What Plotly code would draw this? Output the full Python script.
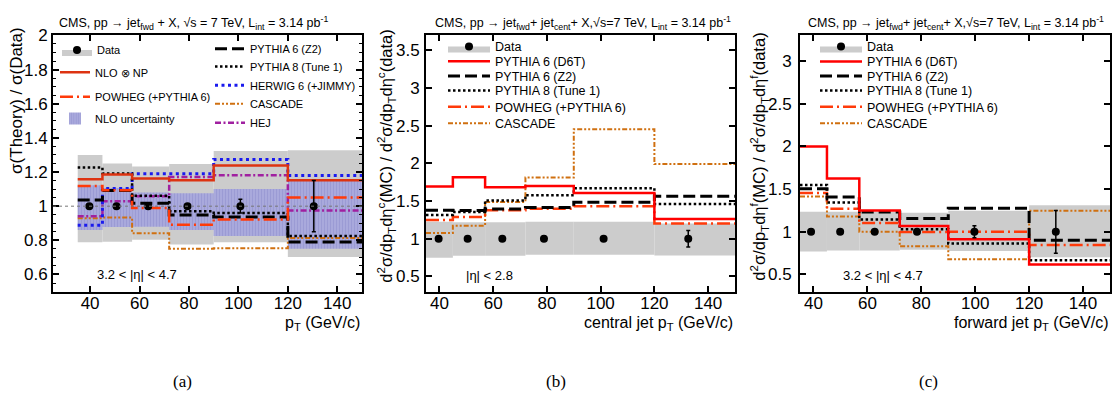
import plotly.graph_objects as go

W, H = 1117, 404
FONT = "Liberation Sans, Arial, sans-serif"

# ---------------- data ----------------
edges = [35, 45, 57, 72, 90, 120, 150]

# panel (a): sigma(Theory)/sigma(Data), 3.2<|eta|<4.7
a_pts_x = [39.7, 50.7, 63.5, 79.4, 100.8, 130.5]
a_pts_y = [1, 1, 1, 1, 1, 1]
a_pts_err = [0.01, 0.01, 0.01, 0.01, 0.04, 0.15]
a_data_hi = [1.30, 1.25, 1.232, 1.247, 1.323, 1.327]
a_data_lo = [0.789, 0.791, 0.803, 0.775, 0.789, 0.703]
a_nlo_hi = [1.122, 1.107, 1.08, 1.075, 1.100, 1.147]
a_nlo_lo = [0.861, 0.878, 0.88, 0.860, 0.826, 0.750]
a_nlo = [1.158, 1.185, 1.162, 1.152, 1.238, 1.152]
a_powheg = [1.118, 1.093, 0.989, 0.891, 0.922, 1.051]
a_z2 = [1.036, 1.092, 1.017, 0.948, 0.937, 0.790]
a_p8 = [1.226, 1.192, 1.061, 0.970, 0.960, 0.826]
a_herwig = [0.889, 1.103, 1.190, 1.190, 1.274, 1.179]
a_cascade = [0.930, 0.933, 0.842, 0.750, 0.754, 0.813]
a_hej = [0.941, 1.029, 1.058, 1.171, 1.181, 0.975]

# panel (b): central jet, |eta|<2.8
b_pts_x = [39.7, 50.5, 63.4, 78.9, 101.1, 132.6]
b_pts_y = [1, 1, 1, 1, 1, 1]
b_pts_err = [0.01, 0.01, 0.01, 0.01, 0.02, 0.11]
b_data_hi = [1.225, 1.22, 1.22, 1.225, 1.225, 1.205]
b_data_lo = [0.75, 0.775, 0.775, 0.79, 0.79, 0.78]
b_d6t = [1.695, 1.816, 1.685, 1.700, 1.609, 1.264]
b_z2 = [1.380, 1.375, 1.395, 1.415, 1.484, 1.566]
b_p8 = [1.317, 1.355, 1.510, 1.580, 1.670, 1.462]
b_powheg = [1.250, 1.290, 1.380, 1.400, 1.432, 1.203]
b_cascade = [1.078, 1.175, 1.488, 1.813, 2.456, 1.994]

# panel (c): forward jet, 3.2<|eta|<4.7
c_pts_x = [39.1, 49.9, 62.7, 78.4, 99.7, 129.9]
c_pts_y = [1, 1, 1, 1, 1, 1]
c_pts_err = [0.01, 0.01, 0.01, 0.01, 0.07, 0.25]
c_data_hi = [1.236, 1.236, 1.236, 1.224, 1.247, 1.311]
c_data_lo = [0.770, 0.780, 0.780, 0.790, 0.775, 0.703]
c_d6t = [2.000, 1.624, 1.250, 1.068, 0.912, 0.616]
c_z2 = [1.505, 1.407, 1.232, 1.157, 1.277, 0.900]
c_p8 = [1.548, 1.343, 1.145, 1.030, 0.863, 0.666]
c_powheg = [1.453, 1.270, 1.103, 0.998, 1.000, 0.844]
c_cascade = [1.414, 1.179, 1.000, 0.830, 0.677, 1.247]

x_ticks = [40, 60, 80, 100, 120, 140]

# ---------------- styles ----------------
GRAY = "#cccccc"
ST = {
    "nlo": dict(color="#dd3311", width=2.5),
    "powheg": dict(color="#ff3a0a", width=2.5, dash="13px,4px,2px,4px"),
    "z2": dict(color="black", width=3, dash="12px,5px"),
    "p8": dict(color="black", width=2.5, dash="2.5px,2.5px"),
    "herwig": dict(color="#1a1aee", width=3, dash="3px,3.5px"),
    "cascade": dict(color="#d07010", width=2, dash="5px,2px,2px,2px,2px,2px"),
    "hej": dict(color="#a020a0", width=2.5, dash="6px,2.5px,2px,2.5px"),
    "d6t": dict(color="#ff0000", width=2.5),
}

LEG_DY = -7  # legend item sits a bit below the legend box middle


def centers(e):
    return [(e[i] + e[i + 1]) / 2 for i in range(len(e) - 1)]


def widths(e):
    return [e[i + 1] - e[i] for i in range(len(e) - 1)]


fig = go.Figure()
legends = {}
leg_count = [0]


def new_legend(px_left, px_cy, itemwidth, fsize):
    leg_count[0] += 1
    key = "legend" if leg_count[0] == 1 else "legend%d" % leg_count[0]
    legends[key] = dict(
        x=px_left / W, y=1 - (px_cy + LEG_DY) / H, xanchor="left", yanchor="middle",
        bgcolor="rgba(0,0,0,0)", borderwidth=0, itemwidth=itemwidth,
        font=dict(family=FONT, size=fsize, color="black"),
    )
    return key


def band(lo, hi, color, xa, ya, name=None, leg=None, pattern=None, line=None):
    mk = dict(color=color, line=line or dict(width=0))
    if pattern:
        mk["pattern"] = pattern
    fig.add_trace(go.Bar(
        x=centers(edges), y=[h - l for l, h in zip(lo, hi)], base=lo,
        width=widths(edges), marker=mk, xaxis=xa, yaxis=ya,
        name=name or "", showlegend=leg is not None, legend=leg or "legend",
        hoverinfo="skip",
    ))


def step(vals, style, xa, ya, name, leg=None):
    fig.add_trace(go.Scatter(
        x=edges, y=vals + [vals[-1]], mode="lines",
        line=dict(shape="hv", **style), xaxis=xa, yaxis=ya, name=name,
        showlegend=leg is not None, legend=leg or "legend",
    ))


def points(px, py, err, xa, ya, leg=None):
    fig.add_trace(go.Scatter(
        x=px, y=py, mode="markers", name="Data",
        marker=dict(color="black", size=8),
        error_y=dict(type="data", array=err, color="black", thickness=1.5, width=2),
        fill="toself", fillcolor=GRAY,
        xaxis=xa, yaxis=ya, showlegend=leg is not None, legend=leg or "legend",
    ))


# ---------------- panel (a) ----------------
band(a_data_lo, a_data_hi, GRAY, "x", "y")
band(a_nlo_lo, a_nlo_hi, "#a9a9dc", "x", "y", name="NLO uncertainty",
     leg=new_legend(55, 119, 30, 11),
     pattern=dict(shape="|", fgcolor="#8e8ecc", size=3, solidity=0.35))
step(a_cascade, ST["cascade"], "x", "y", "CASCADE", new_legend(210, 104, 30, 11))
step(a_hej, ST["hej"], "x", "y", "HEJ", new_legend(210, 123.3, 30, 11))
step(a_herwig, ST["herwig"], "x", "y", "HERWIG 6 (+JIMMY)", new_legend(210, 85, 30, 11))
step(a_p8, ST["p8"], "x", "y", "PYTHIA 8 (Tune 1)", new_legend(210, 65.7, 30, 11))
step(a_z2, ST["z2"], "x", "y", "PYTHIA 6 (Z2)", new_legend(210, 47.7, 30, 11))
step(a_powheg, ST["powheg"], "x", "y", "POWHEG (+PYTHIA 6)", new_legend(55, 96.7, 30, 11))
step(a_nlo, ST["nlo"], "x", "y", "NLO ⊗ NP", new_legend(55, 71.7, 30, 11))
points(a_pts_x, a_pts_y, a_pts_err, "x", "y", new_legend(57, 49, 30, 11))

# ---------------- panel (b) ----------------
band(b_data_lo, b_data_hi, GRAY, "x2", "y2")
step(b_cascade, ST["cascade"], "x2", "y2", "CASCADE", new_legend(443, 124.3, 42, 12.5))
step(b_powheg, ST["powheg"], "x2", "y2", "POWHEG (+PYTHIA 6)", new_legend(443, 107.3, 42, 12.5))
step(b_p8, ST["p8"], "x2", "y2", "PYTHIA 8 (Tune 1)", new_legend(443, 90.7, 42, 12.5))
step(b_z2, ST["z2"], "x2", "y2", "PYTHIA 6 (Z2)", new_legend(443, 76, 42, 12.5))
step(b_d6t, ST["d6t"], "x2", "y2", "PYTHIA 6 (D6T)", new_legend(443, 60.7, 42, 12.5))
points(b_pts_x, b_pts_y, b_pts_err, "x2", "y2", new_legend(443, 45.7, 42, 12.5))

# ---------------- panel (c) ----------------
band(c_data_lo, c_data_hi, GRAY, "x3", "y3")
step(c_cascade, ST["cascade"], "x3", "y3", "CASCADE", new_legend(815, 124.3, 42, 12.5))
step(c_powheg, ST["powheg"], "x3", "y3", "POWHEG (+PYTHIA 6)", new_legend(815, 107.3, 42, 12.5))
step(c_p8, ST["p8"], "x3", "y3", "PYTHIA 8 (Tune 1)", new_legend(815, 90.7, 42, 12.5))
step(c_z2, ST["z2"], "x3", "y3", "PYTHIA 6 (Z2)", new_legend(815, 76, 42, 12.5))
step(c_d6t, ST["d6t"], "x3", "y3", "PYTHIA 6 (D6T)", new_legend(815, 61, 42, 12.5))
points(c_pts_x, c_pts_y, c_pts_err, "x3", "y3", new_legend(815, 45.7, 42, 12.5))

# ---------------- axes ----------------
ydom = [1 - 289 / H, 1 - 27 / H]
common = dict(
    showline=True, linewidth=2, linecolor="black", mirror="allticks",
    ticks="inside", ticklen=6, tickwidth=1.5, tickcolor="black",
    showgrid=False, zeroline=False,
    tickfont=dict(family=FONT, size=17, color="black"),
)

fig.update_layout(
    xaxis=dict(domain=[53 / W, 362 / W], range=[25, 150], anchor="y",
               tickvals=x_ticks, ticklabelstandoff=-5, **common),
    yaxis=dict(domain=ydom, range=[0.5, 2.0], anchor="x", dtick=0.2, tick0=0,
               minor=dict(ticks="inside", ticklen=3, dtick=0.05, tickcolor="black", tickwidth=1),
               ticklabelstandoff=0, **common),
    xaxis2=dict(domain=[426 / W, 735 / W], range=[35, 150], anchor="y2",
                tickvals=x_ticks, ticklabelstandoff=-5, **common),
    yaxis2=dict(domain=ydom, range=[0.3, 3.7], anchor="x2", dtick=0.5, tick0=0,
                ticklabelstandoff=1, **common),
    xaxis3=dict(domain=[800 / W, 1110 / W], range=[35, 150], anchor="y3",
                tickvals=x_ticks, ticklabelstandoff=-5, **common),
    yaxis3=dict(domain=ydom, range=[0.3, 3.3], anchor="x3", dtick=0.5, tick0=0,
                ticklabelstandoff=3, **common),
    barmode="overlay",
    width=W, height=H,
    margin=dict(l=0, r=0, t=0, b=0),
    paper_bgcolor="white", plot_bgcolor="white",
    font=dict(family=FONT, color="black"),
)
fig.update_layout(**legends)

fig.add_hline(y=1, line=dict(color="#777777", width=1, dash="dot"))


def ann(text, px, py, size, xanchor="center", yanchor="middle", angle=0, family=FONT):
    fig.add_annotation(
        text=text, x=px / W, y=1 - py / H, xref="paper", yref="paper",
        xanchor=xanchor, yanchor=yanchor, showarrow=False, textangle=angle,
        font=dict(family=family, size=size, color="black"),
    )


title_a = "CMS, pp → jet<sub>fwd</sub> + X, √s = 7 TeV, L<sub>int</sub> = 3.14 pb<sup>-1</sup>"
title_bc = "CMS, pp → jet<sub>fwd</sub>+ jet<sub>cent</sub>+ X,√s=7 TeV, L<sub>int</sub> = 3.14 pb<sup>-1</sup>"
ann(title_a, 193, 14, 12.5)
ann(title_bc, 583, 14, 12.5)
ann(title_bc, 956, 14, 12.5)

ann("σ(Theory) / σ(Data)", 17, 94, 17, angle=-90)
ann("d<sup>2</sup>σ/dp<sub>T</sub>dη<sup>c</sup>(MC) / d<sup>2</sup>σ/dp<sub>T</sub>dη<sup>c</sup>(data)",
    386, 151, 16.5, angle=-90)
ann("d<sup>2</sup>σ/dp<sub>T</sub>dη<sup>f</sup>(MC) / d<sup>2</sup>σ/dp<sub>T</sub>dη<sup>f</sup>(data)",
    759, 151, 16.5, angle=-90)

ann("p<sub>T</sub> (GeV/c)", 362, 322, 16, xanchor="right")
ann("central jet p<sub>T</sub> (GeV/c)", 735, 322, 16, xanchor="right")
ann("forward jet p<sub>T</sub> (GeV/c)", 1110, 322, 16, xanchor="right")

ann("3.2 < |η| < 4.7", 95, 272, 13, xanchor="left")
ann("|η| < 2.8", 464, 273, 13, xanchor="left")
ann("3.2 < |η| < 4.7", 841, 273, 13, xanchor="left")

ann("(a)", 182, 381, 17, family="Liberation Serif, Times New Roman, serif")
ann("(b)", 556, 381, 17, family="Liberation Serif, Times New Roman, serif")
ann("(c)", 928, 381, 17, family="Liberation Serif, Times New Roman, serif")

fig.write_html("out.html", config={"displayModeBar": False},
               post_script="document.body.style.margin='0px';")
